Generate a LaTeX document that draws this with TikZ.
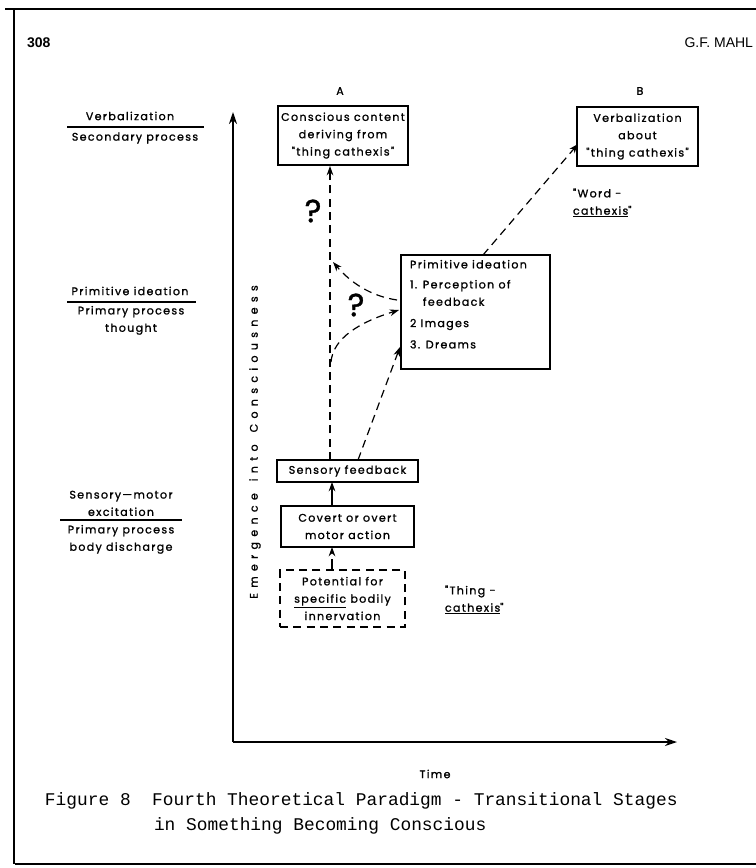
\documentclass[tikz,border=0pt]{standalone}
\usepackage{fontspec}
\usetikzlibrary{arrows.meta}
\newfontfamily\dfont[LetterSpace=12,FakeBold=1.2]{Poppins}
\newfontfamily\afont[LetterSpace=48,FakeBold=1.2]{Poppins}
\newfontfamily\hfont{Liberation Sans}
\newfontfamily\capfont{Liberation Mono}
\begin{document}
\begin{tikzpicture}[x=0.75pt,y=-0.75pt,
  every node/.style={inner sep=0pt,outer sep=0pt},
  lbl/.style={font=\dfont\fontsize{8.3}{13}\selectfont,align=center},
  boxed/.style={draw,line width=1pt,lbl},
  tip/.style={-{Stealth[length=7pt,width=5pt]}},
  dline/.style={dashed,dash pattern=on 6pt off 4pt,line width=0.9pt,tip},
  sline/.style={line width=1pt,tip},
  quest/.style={font=\dfont\fontsize{24}{24}\selectfont}]
\useasboundingbox (0,0) rectangle (756,868);
% page frame
\draw[line width=2.2pt] (5,9) -- (756,9);
\draw[line width=2.2pt] (14,8) -- (14,864);
\draw[line width=2.2pt] (15,864) -- (756,864);
% running head
\node[font=\hfont\bfseries\fontsize{10.5}{10}\selectfont,anchor=west] (pg) at (27,43) {308};
\node[font=\hfont\fontsize{10.5}{10}\selectfont,anchor=east] (au) at (753,43) {G.F. MAHL};
% axes
\coordinate (O) at (233,742);
\coordinate (Ytop) at (233,112);
\coordinate (Xend) at (677,742);
\draw[line width=1pt,-{Stealth[length=9pt,width=6pt]}] (O) -- (Ytop);
\draw[line width=1pt,-{Stealth[length=9pt,width=6pt]}] (O) -- (Xend);
\node[lbl] (time) at (435,774) {Time};
\node[rotate=90,font=\afont\fontsize{8.3}{10}\selectfont] (yl) at (255,442)
  {Emergence\hspace{9pt}into\hspace{9pt}Consciousness};
% column headings
\node[lbl] (hA) at (340,91) {A};
\node[lbl] (hB) at (640,91) {B};
% level labels on the left
\node[lbl] (l1a) at (130,116) {Verbalization};
\draw[line width=1pt] (67,127) -- (204,127);
\node[lbl] (l1b) at (135,138) {Secondary process};
\node[lbl] (l2a) at (130,291) {Primitive ideation};
\draw[line width=1pt] (67,302) -- (196,302);
\node[lbl,anchor=north] (l2b) at (131,306) {Primary process\\thought};
\node[lbl,anchor=south] (l3a) at (121,516) {Sensory—motor\\excitation};
\draw[line width=1pt] (60,520) -- (182,520);
\node[lbl,anchor=north] (l3b) at (121,525) {Primary process\\body discharge};
% boxes
\node[boxed,minimum width=97.5pt,minimum height=44.25pt] (boxA) at (343,135.5)
  {Conscious content\\deriving from\\"thing cathexis"};
\node[boxed,minimum width=90.75pt,minimum height=44.25pt] (boxB) at (637.5,136.5)
  {Verbalization\\about\\"thing cathexis"};
\node[draw,line width=1pt,minimum width=111.75pt,minimum height=85.5pt] (prim) at (475.5,312) {};
\node[lbl,align=left,anchor=north west] (primtxt) at (410,260)
  {Primitive ideation\\[2pt]
   1. Perception of\\
   \phantom{1. }feedback\\[3pt]
   2 Images\\[3pt]
   3. Dreams};
\node[boxed,minimum width=105.75pt,minimum height=16.5pt] (sens) at (347.5,471) {Sensory feedback};
\node[boxed,minimum width=99.75pt,minimum height=30.75pt] (cov) at (347.5,526.5) {Covert or overt\\motor action};
\node[boxed,dashed,dash pattern=on 6pt off 4pt,minimum width=93.75pt,minimum height=42.75pt] (pot) at (342.5,598.5)
  {Potential for\\\underline{specific} bodily\\innervation};
% side notes
\node[lbl,align=left,anchor=west] (word) at (573,203) {"Word -\\\underline{cathexis}"};
\node[lbl,align=left,anchor=west] (thing) at (445,600) {"Thing -\\\underline{cathexis}"};
\node[quest] (q1) at (313,211) {?};
\node[quest] (q2) at (356,305) {?};
% connectors
\coordinate (v0) at (330,460);
\coordinate (v1) at (330,166);
\coordinate (vb) at (331,362);
\coordinate (vt) at (333,262);
\coordinate (pl1) at (399,310);
\coordinate (pl2) at (397,300);
\coordinate (pl3) at (400,347);
\coordinate (s1) at (358,460);
\coordinate (pt) at (483,255);
\coordinate (bl) at (578,144);
\draw[dline] (v0) -- (v1);
\draw[dline] (s1) -- (pl3);
\draw[dline] (vb) .. controls (333,338) and (360,322) .. (pl1);
\draw[dline] (pl2) .. controls (370,296) and (350,282) .. (vt);
\draw[dline] (pt) -- (bl);
\draw[sline] (cov.north -| 332,0) -- (sens.south -| 332,0);
\draw[dline,dash pattern=on 8pt off 5pt] (pot.north -| 332,0) -- (cov.south -| 332,0);
% caption
\node[font=\capfont\fontsize{13.4}{19}\selectfont,anchor=west] (cap1) at (45,801)
  {Figure 8\ \ Fourth Theoretical Paradigm - Transitional Stages};
\node[font=\capfont\fontsize{13.4}{19}\selectfont,anchor=west] (cap2) at (154,826)
  {in Something Becoming Conscious};
\end{tikzpicture}
\end{document}
